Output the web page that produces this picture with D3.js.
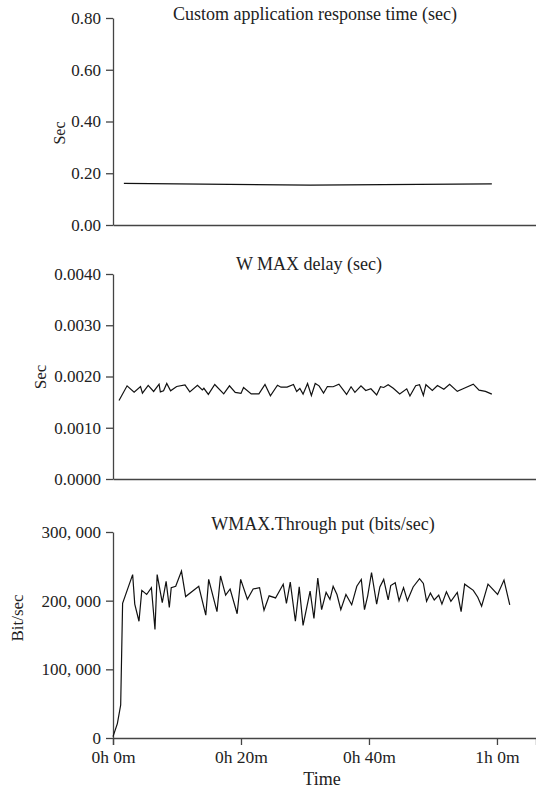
<!DOCTYPE html>
<html>
<head>
<meta charset="utf-8">
<script src="https://d3js.org/d3.v7.min.js"></script>
<style>
body { margin: 0; background: white; }
text { font-family: "Liberation Serif", "Times New Roman", serif; fill: #222; }
.axis path, .axis line { stroke: #444; stroke-width: 1.3px; }
.series { fill: none; stroke: #111; stroke-width: 1.2px; }
</style>
</head>
<body>
<svg width="536" height="790"></svg>
<script>
// time in minutes
var appTime = [1.7, 30.8, 59.2];
var appVal = [0.1605, 0.154, 0.159];

var delayTime = [0.94, 2.2, 3.3, 4.3, 4.6, 5.5, 6.35, 7.2, 7.4, 7.9, 8.4, 9.0, 9.95, 11.25, 12.0, 13.2, 13.96, 14.2, 14.9, 15.9,
  17.3, 18.2, 19.1, 20.0, 20.4, 21.6, 22.8, 23.75, 24.6, 25.7, 26.25, 27.2, 28.2, 28.7, 29.2, 29.7, 30.4, 31.0, 31.6, 32.2,
  32.9, 33.5, 34.4, 35.3, 36.5, 37.2, 37.8, 38.75, 39.5, 40.3, 41.2, 41.8, 42.3, 43.0, 43.8, 44.8, 45.9, 46.4, 47.3, 47.9,
  48.5, 48.9, 49.9, 50.7, 51.7, 52.6, 53.8, 54.7, 56.3, 57.2, 58.2, 59.2];
var delayVal = [0.001532, 0.001818, 0.001695, 0.001805, 0.001675, 0.001825, 0.001708, 0.001851, 0.0017, 0.00172, 0.001864, 0.00172,
  0.001805, 0.001838, 0.0017, 0.00183, 0.00174, 0.00177, 0.00165, 0.001844, 0.00166, 0.001818, 0.00169, 0.00167, 0.001786,
  0.00166, 0.00166, 0.001844, 0.001623, 0.00183, 0.001792, 0.001792, 0.001844, 0.001708, 0.001766, 0.001656, 0.001864, 0.00163,
  0.001864, 0.001818, 0.001675, 0.001805, 0.0018, 0.00185, 0.00165, 0.0018, 0.00169, 0.001818, 0.001727, 0.00176, 0.00164,
  0.0018, 0.001786, 0.001838, 0.00177, 0.00166, 0.00176, 0.00162, 0.00182, 0.00184, 0.00163, 0.00184, 0.00173, 0.001825,
  0.001753, 0.00185, 0.00171, 0.00176, 0.00185, 0.001734, 0.00171, 0.001656];

var thruTime = [0, 0.68, 1.2, 1.5, 3.07, 3.4, 4.06, 4.5, 5.26, 6.0, 6.56, 6.9, 7.7, 8.3, 8.8, 9.1, 9.8, 10.7, 11.35, 13.4,
  14.5, 14.95, 16.25, 16.8, 17.6, 18.3, 19.4, 19.95, 21.0, 21.9, 22.9, 23.6, 24.4, 25.4, 26.6, 27.1, 27.7, 28.5, 29.1, 29.7,
  30.8, 31.4, 32.0, 32.6, 33.3, 33.9, 34.4, 35.0, 35.6, 36.4, 37.3, 38.1, 38.8, 39.3, 39.8, 40.4, 41.2, 41.7, 42.3, 43.0,
  43.4, 44.1, 44.7, 45.4, 46.0, 46.9, 47.9, 48.5, 49.0, 49.6, 50.2, 50.9, 51.4, 52.1, 52.8, 53.8, 54.4, 54.95, 56.3, 57.0,
  57.6, 58.6, 60.1, 61.1, 62.0];
var thruVal = [2000, 21000, 48000, 196000, 238000, 195000, 170000, 215000, 209000, 219000, 158000, 238000, 197000, 228000, 190000,
  219000, 221000, 243000, 206000, 221000, 179000, 231000, 184000, 236000, 208000, 217000, 181000, 231000, 202000, 217000,
  219000, 186000, 207000, 204000, 224000, 196000, 227000, 170000, 220000, 164000, 214000, 174000, 233000, 187000, 212000,
  202000, 221000, 209000, 187000, 209000, 194000, 221000, 231000, 187000, 207000, 241000, 195000, 220000, 231000, 201000,
  222000, 226000, 200000, 219000, 200000, 220000, 232000, 225000, 199000, 211000, 201000, 208000, 195000, 213000, 199000,
  212000, 184000, 224000, 215000, 205000, 192000, 224000, 209000, 230000, 194000];

var xTicks = [0, 20, 40, 60];
var xTickLabels = ["0h 0m", "0h 20m", "0h 40m", "1h 0m"];

var svg = d3.select("svg");
var serif = "'Liberation Serif', 'Times New Roman', serif";
var left = 113;
var x = d3.scaleLinear().domain([0, 66.1]).range([left, 536]);

var panels = [
  {title: "Custom application response time (sec)", titleX: 315, titleY: 20, ylabel: "Sec", labelX: 59, labelY: 133, labelSize: 16,
   top: 18, bottom: 225, max: 0.8, ticks: [0, 0.2, 0.4, 0.6, 0.8], fmt: d3.format(".2f"), t: appTime, v: appVal, xlabels: false},
  {title: "W MAX delay (sec)", titleX: 309, titleY: 270, ylabel: "Sec", labelX: 40, labelY: 377, labelSize: 17,
   top: 274, bottom: 479, max: 0.004, ticks: [0, 0.001, 0.002, 0.003, 0.004], fmt: d3.format(".4f"), t: delayTime, v: delayVal, xlabels: false},
  {title: "WMAX.Through put (bits/sec)", titleX: 323, titleY: 530, ylabel: "Bit/sec", labelX: 17, labelY: 618, labelSize: 17,
   top: 532, bottom: 738, max: 300000, ticks: [0, 100000, 200000, 300000],
   fmt: function(d) { return d === 0 ? "0" : d3.format(",")(d).replace(",", ", "); }, t: thruTime, v: thruVal, xlabels: true}
];

panels.forEach(function(p) {
  var y = d3.scaleLinear().domain([0, p.max]).range([p.bottom, p.top]);

  // y axis
  svg.append("g")
    .attr("class", "axis")
    .attr("transform", "translate(" + left + ",0)")
    .call(d3.axisLeft(y).tickValues(p.ticks).tickFormat(p.fmt).tickSize(7).tickSizeOuter(0).tickPadding(5))
    .attr("font-family", serif)
    .attr("font-size", 17)
    .selectAll("text").style("font-family", serif).style("font-size", "17px").attr("fill", "#222");

  // x axis
  var xa = d3.axisBottom(x).tickValues(xTicks).tickSizeOuter(0);
  if (p.xlabels) {
    xa.tickSize(7).tickPadding(6).tickFormat(function(d, i) { return xTickLabels[i]; });
  } else {
    xa.tickSize(0).tickFormat("");
  }
  svg.append("g")
    .attr("class", "axis")
    .attr("transform", "translate(0," + p.bottom + ")")
    .call(xa)
    .attr("font-family", serif)
    .attr("font-size", 17)
    .selectAll("text").style("font-family", serif).style("font-size", "17.5px").attr("fill", "#222");

  // title
  svg.append("text")
    .attr("x", p.titleX)
    .attr("y", p.titleY)
    .attr("text-anchor", "middle")
    .style("font-size", "18px")
    .text(p.title);

  // y label
  svg.append("text")
    .attr("transform", "translate(" + p.labelX + "," + p.labelY + ") rotate(-90)")
    .attr("text-anchor", "middle")
    .attr("dy", "0.35em")
    .style("font-size", p.labelSize + "px")
    .text(p.ylabel);

  var line = d3.line()
    .x(function(d, i) { return x(p.t[i]); })
    .y(function(d) { return y(d); });

  svg.append("path")
    .datum(p.v)
    .attr("class", "series")
    .attr("d", line);
});

svg.append("text")
  .attr("x", 322)
  .attr("y", 785)
  .attr("text-anchor", "middle")
  .style("font-size", "18px")
  .text("Time");
</script>
</body>
</html>
